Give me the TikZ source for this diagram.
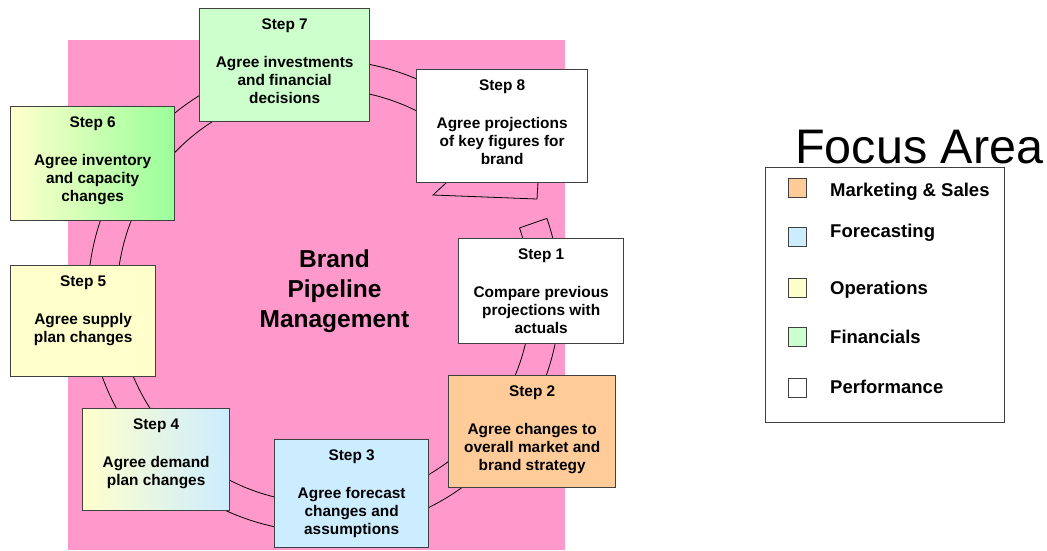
\documentclass[tikz,border=0pt]{standalone}
\usepackage{fontspec}
\setmainfont{Liberation Sans}

\definecolor{pinkbg}{HTML}{FF99CC}
\definecolor{mkt}{HTML}{FFCC99}
\definecolor{fcst}{HTML}{CCECFF}
\definecolor{ops}{HTML}{FFFFCC}
\definecolor{fin}{HTML}{CCFFCC}
\definecolor{fingrad}{HTML}{99FF99}
\definecolor{edge}{HTML}{404040}

\begin{document}
\begin{tikzpicture}[x=1pt, y=-1pt,
    stepbox/.style={ draw=edge, line width=1.3pt, rectangle,
    inner sep=0pt, anchor=north west }, steptext/.style={
    font=\bfseries\fontsize{15.4}{18.2}\selectfont, align=center,
    anchor=north, inner sep=0pt }, ring/.style={ draw=black,
    line width=0.8pt }, swatch/.style={ draw=edge, line width=0.8pt,
    minimum width=18pt, minimum height=19pt, inner sep=0pt,
    anchor=north west }, legtext/.style={
    font=\bfseries\fontsize{18.5}{21}\selectfont, anchor=base west,
    inner sep=0pt } ]
  \useasboundingbox (0,0) rectangle (1047,550);
  \fill[pinkbg] (68,40) rectangle (565,550);
  % ring behind the steps
  \coordinate (hub) at (324,296);
  \draw[ring] (hub) ++(-19.2:236) arc[start angle=-19.2, end angle=320, radius=236];
  \draw[ring] (hub) ++(-19.2:207) arc[start angle=-19.2, end angle=320, radius=207];
  \draw[ring] (hub) ++(-19.2:207) -- ++(-19.2:29);
  \draw[ring] (447,182) -- (433,195) -- (537,199) -- (538,182);
  \node[font=\bfseries\fontsize{24.5}{30}\selectfont, align=center,
    anchor=north, inner sep=0pt] (title) at (334.5,250)
    {Brand\\Pipeline\\Management};
  \foreach \n/\x/\y/\w/\h/\lft/\rgt/\txt in {
    1/458/238/165/105/white/white/{Compare previous\\projections with\\actuals},
    2/448/375/167/112/mkt/mkt/{Agree changes to\\overall market and\\brand strategy},
    3/274/439/154/108/fcst/fcst/{Agree forecast\\changes and\\assumptions},
    4/82/408/147/102/ops/fcst/{Agree demand\\plan changes},
    5/10/265/145/111/ops/ops/{Agree supply\\plan changes},
    6/10/106/164/114/ops/fingrad/{Agree inventory\\and capacity\\changes},
    7/199/8/170/113/fin/fin/{Agree investments\\and financial\\decisions},
    8/416/69/171/113/white/white/{Agree projections\\of key figures for\\brand}}
  {
    \node[stepbox, left color=\lft, right color=\rgt, minimum width=\w pt,
      minimum height=\h pt] (s\n) at (\x,\y) {};
    \node[steptext] (t\n) at ([yshift=-11pt]s\n.north) {Step \n\\[19pt]\txt};
  }
  % legend
  \node[font=\fontsize{48.5}{50}\selectfont, anchor=base west, inner sep=0pt]
    (focus) at (795,163) {Focus Area};
  \node[draw=edge, line width=0.8pt, minimum width=239pt, minimum height=255pt,
    anchor=north west, inner sep=0pt] (legend) at (765,167) {};
  \foreach \n/\y/\c/\b/\txt in {1/178/mkt/196/Marketing \& Sales,
    2/227/fcst/237/Forecasting, 3/278/ops/294/Operations,
    4/327/fin/343/Financials, 5/378/white/393/Performance}
  {
    \node[swatch, fill=\c] (m\n) at (788,\y) {};
    \node[legtext] (l\n) at (830,\b) {\txt};
  }
\end{tikzpicture}
\end{document}
